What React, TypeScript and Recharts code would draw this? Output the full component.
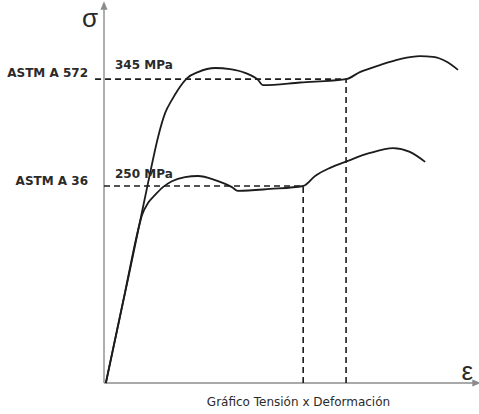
import { LineChart, Line, XAxis, YAxis, ReferenceLine, ReferenceDot } from 'recharts';

// relative strain / stress units (0-100)
const strainA572 = [0.5, 7.0, 12.3, 13.1, 14.5, 16.4, 18.2, 19.8, 22.3, 25.2, 29.8, 33.8, 37.8, 41.3, 42.6, 52.6, 64.9, 68.6, 74.0, 79.4, 84.7, 88.2, 92.0, 94.9];
const stressA572 = [0, 30.7, 56.3, 60.1, 66.3, 72.8, 76.3, 79.0, 82.2, 83.8, 84.9, 84.6, 83.6, 81.7, 80.3, 81.0, 81.9, 83.8, 85.7, 87.3, 88.1, 87.9, 86.5, 84.4];

const strainA36 = [0.5, 5.6, 9.4, 10.2, 11.8, 13.7, 15.8, 18.2, 21.7, 25.2, 29.8, 34.3, 35.9, 44.5, 53.4, 56.6, 60.6, 65.2, 71.3, 77.5, 82.0, 86.1];
const stressA36 = [0, 24.3, 42.3, 45.3, 48.5, 50.7, 52.8, 54.4, 55.5, 55.8, 54.7, 52.8, 51.8, 52.3, 53.1, 55.8, 58.0, 59.8, 62.0, 63.3, 62.3, 59.6];

const steels = ['ASTM A 572', 'ASTM A 36'];
const yieldLabels = ['345 MPa', '250 MPa'];
const yieldStrain = [64.9, 53.4];
const yieldStress = [81.9, 53.1];
const dashStart = [-2.4, 0];

const a572 = strainA572.map((e, i) => ({ e, s: stressA572[i] }));
const a36 = strainA36.map((e, i) => ({ e, s: stressA36[i] }));

const INK = '#1c1c1c';
const AXIS = '#8c8c8c';

function note(key: string, e: number, s: number, text: string, o: any) {
  return (
    <ReferenceDot
      key={key}
      x={e}
      y={s}
      r={0}
      fill="none"
      stroke="none"
      ifOverflow="visible"
      label={(p: any) => (
        <text
          x={p.viewBox.x + (o.dx || 0)}
          y={p.viewBox.y + (o.dy || 0)}
          textAnchor={o.anchor || 'start'}
          fontFamily={o.family || 'DejaVu Sans'}
          fontSize={o.size || 12}
          fontWeight={o.weight || 'bold'}
          fill={o.fill || '#2a2a2a'}
        >
          {text}
        </text>
      )}
    />
  );
}

function arrow(key: string, e: number, s: number, dir: 'up' | 'right') {
  return (
    <ReferenceDot
      key={key}
      x={e}
      y={s}
      r={0}
      ifOverflow="visible"
      shape={(p: any) => {
        const { cx, cy } = p;
        const d =
          dir === 'up'
            ? `M${cx},${cy} L${cx},${cy - 6} M${cx - 2.5},${cy - 3} L${cx},${cy - 9} L${cx + 2.5},${cy - 3} Z`
            : `M${cx - 4},${cy - 2.5} L${cx + 2},${cy} L${cx - 4},${cy + 2.5} Z`;
        return <path d={d} stroke={AXIS} strokeWidth={1.4} fill={AXIS} />;
      }}
    />
  );
}

export default function App() {
  return (
    <div style={{ position: 'absolute', left: 0, top: 0, background: '#fff' }}>
      <LineChart width={479} height={414} margin={{ top: 12, right: 2, bottom: 31, left: 104 }}>
        <XAxis type="number" dataKey="e" domain={[0, 100]} hide />
        <YAxis type="number" domain={[0, 100]} hide />
        <ReferenceLine segment={[{ x: 0, y: 0 }, { x: 0, y: 100 }]} stroke={AXIS} strokeWidth={1.4} />
        <ReferenceLine segment={[{ x: 0, y: 0 }, { x: 100, y: 0 }]} stroke={AXIS} strokeWidth={1.4} />
        {yieldStrain.map((e, i) => (
          <ReferenceLine
            key={`h${i}`}
            segment={[{ x: dashStart[i], y: yieldStress[i] }, { x: e, y: yieldStress[i] }]}
            stroke={INK}
            strokeWidth={1.6}
            strokeDasharray="6 4"
            ifOverflow="visible"
          />
        ))}
        {yieldStrain.map((e, i) => (
          <ReferenceLine
            key={`v${i}`}
            segment={[{ x: e, y: 0 }, { x: e, y: yieldStress[i] }]}
            stroke={INK}
            strokeWidth={1.6}
            strokeDasharray="6 4"
          />
        ))}
        <Line data={a572} dataKey="s" type="monotone" stroke={INK} strokeWidth={1.8} dot={false} isAnimationActive={false} />
        <Line data={a36} dataKey="s" type="monotone" stroke={INK} strokeWidth={1.8} dot={false} isAnimationActive={false} />
        {arrow('ay', 0, 100, 'up')}
        {arrow('ax', 100, 0, 'right')}
        {note('sig', 0, 100, 'σ', { dx: -6, dy: 15, anchor: 'end', size: 26, weight: 'normal', family: 'Liberation Sans' })}
        {note('eps', 100, 0, 'ε', { dx: -4, dy: -3, anchor: 'end', size: 26, weight: 'normal', family: 'Liberation Sans' })}
        {steels.map((t, i) => note(`s${i}`, 0, yieldStress[i], t, { dx: -16, dy: i === 0 ? -2 : -1, anchor: 'end' }))}
        {yieldLabels.map((t, i) => note(`y${i}`, 0, yieldStress[i], t, { dx: 11, dy: i === 0 ? -10 : -8 }))}
        {note('cap', 0, 0, 'Gráfico Tensión x Deformación', { dx: 194.5, dy: 23, anchor: 'middle', size: 12, weight: 'normal' })}
      </LineChart>
    </div>
  );
}
